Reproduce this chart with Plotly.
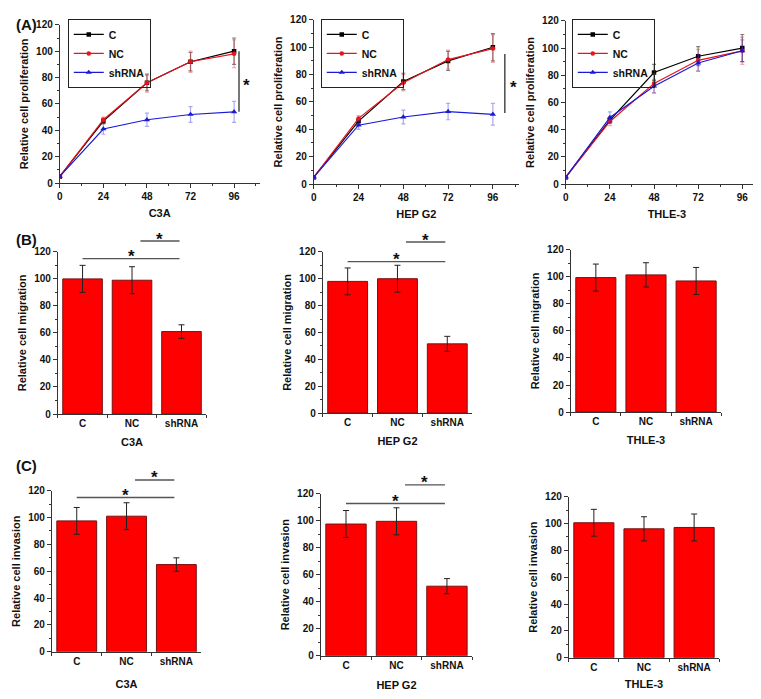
import plotly.graph_objects as go

W, H = 761, 699

# ---------------- data ----------------
hours = [0, 24, 48, 72, 96]
groups = ["C", "NC", "shRNA"]
cell_lines = ["C3A", "HEP G2", "THLE-3"]

# (A) proliferation, per cell line: C, NC, shRNA
prolif_C3A_C = [5, 47, 76, 92, 100]
prolif_C3A_C_err = [1, 2, 6, 7, 10]
prolif_C3A_NC = [5, 48, 76, 92, 98]
prolif_C3A_NC_err = [1, 2, 7, 8, 10.5]
prolif_C3A_sh = [5, 41, 48, 52, 54]
prolif_C3A_sh_err = [1, 4, 5, 6, 8]

prolif_HEP_C = [5, 46, 75, 90, 100]
prolif_HEP_C_err = [1, 2, 6, 7, 10]
prolif_HEP_NC = [5, 48, 74, 91, 99]
prolif_HEP_NC_err = [1, 2, 6, 7, 10]
prolif_HEP_sh = [5, 43, 49, 53, 51]
prolif_HEP_sh_err = [1, 3, 5, 6, 8]

prolif_THLE_C = [5, 47, 82, 94, 100]
prolif_THLE_C_err = [1, 2, 6, 7, 10]
prolif_THLE_NC = [5, 46, 74, 91, 98]
prolif_THLE_NC_err = [1, 3, 7, 8, 10]
prolif_THLE_sh = [5, 49, 72, 89, 98]
prolif_THLE_sh_err = [1, 4, 5, 6, 8]

# (B) migration
migr_C3A = [100, 99, 61]
migr_C3A_err = [10, 10, 5]
migr_HEP = [98, 100, 51.5]
migr_HEP_err = [10, 10, 5.6]
migr_THLE = [99.5, 101.5, 97]
migr_THLE_err = [10, 9, 10]

# (C) invasion
inv_C3A = [97.5, 101, 65]
inv_C3A_err = [10, 10, 5]
inv_HEP = [97.5, 99.5, 51.5]
inv_HEP_err = [10, 10, 5.6]
inv_THLE = [100.5, 96, 97]
inv_THLE_err = [10, 9, 10]

# ---------------- layout geometry (pixel boxes: left, right, top, bottom) ----------------
boxes = {
    1: (49, 249.5, 11, 172),
    2: (304, 510, 6, 173),
    3: (557, 760, 7, 173),
    4: (47, 196, 242, 407),
    5: (313, 463, 242, 406),
    6: (562, 713, 240, 405),
    7: (41, 191, 485, 649),
    8: (311, 463, 488, 653),
    9: (560, 711, 491, 655),
}
LINE_XR = [0, 110]
BAR_XR = [-0.5, 2.5]
YR = [0, 120]

FONT = "Liberation Sans, Arial, sans-serif"
AXC = "#333333"


def xdom(n):
    b = boxes[n]
    return [b[0] / W, b[1] / W]


def ydom(n):
    b = boxes[n]
    return [1 - b[3] / H, 1 - b[2] / H]


def to_paper(n, xv, yv, xr):
    b = boxes[n]
    fx = (xv - xr[0]) / (xr[1] - xr[0])
    fy = (yv - YR[0]) / (YR[1] - YR[0])
    px = b[0] + fx * (b[1] - b[0])
    py = b[3] - fy * (b[3] - b[2])
    return px / W, 1 - py / H


fig = go.Figure()

series_style = [
    ("C", "#000000", "square", 4.5, "rgba(0,0,0,0.5)"),
    ("NC", "#e8141c", "circle", 4.5, "rgba(220,40,40,0.4)"),
    ("shRNA", "#1a1ad6", "triangle-up", 5.5, "rgba(40,40,220,0.4)"),
]

line_data = [
    [(prolif_C3A_C, prolif_C3A_C_err), (prolif_C3A_NC, prolif_C3A_NC_err), (prolif_C3A_sh, prolif_C3A_sh_err)],
    [(prolif_HEP_C, prolif_HEP_C_err), (prolif_HEP_NC, prolif_HEP_NC_err), (prolif_HEP_sh, prolif_HEP_sh_err)],
    [(prolif_THLE_C, prolif_THLE_C_err), (prolif_THLE_NC, prolif_THLE_NC_err), (prolif_THLE_sh, prolif_THLE_sh_err)],
]
legend_ids = ["legend", "legend2", "legend3"]

for p, panel in enumerate(line_data):
    n = p + 1
    for (vals, errs), (name, col, sym, size, ecol) in zip(panel, series_style):
        fig.add_trace(go.Scatter(
            x=hours, y=vals, name=name, mode="lines+markers",
            line=dict(color=col, width=1.2),
            marker=dict(symbol=sym, size=size, color=col, line=dict(width=0)),
            error_y=dict(type="data", array=errs, color=ecol, thickness=1.2, width=2),
            xaxis="x%d" % n if n > 1 else "x", yaxis="y%d" % n if n > 1 else "y",
            legend=legend_ids[p], showlegend=True,
        ))

bar_data = [
    (migr_C3A, migr_C3A_err), (migr_HEP, migr_HEP_err), (migr_THLE, migr_THLE_err),
    (inv_C3A, inv_C3A_err), (inv_HEP, inv_HEP_err), (inv_THLE, inv_THLE_err),
]
for i, (vals, errs) in enumerate(bar_data):
    n = i + 4
    fig.add_trace(go.Bar(
        x=groups, y=vals, width=0.8,
        marker=dict(color="#ff0000", line=dict(color="#7a1010", width=1)),
        error_y=dict(type="data", array=errs, color="#222222", thickness=1, width=3),
        xaxis="x%d" % n, yaxis="y%d" % n, showlegend=False,
    ))

tickfont = dict(family=FONT, size=10, color="#111111", weight="bold")
titlefont = dict(family=FONT, size=11, color="#111111", weight="bold")

layout = dict(
    width=W, height=H, margin=dict(l=0, r=0, t=0, b=0),
    paper_bgcolor="white", plot_bgcolor="white",
    font=dict(family=FONT, color="#111111"),
    bargap=0.2,
)

ytitles = {1: "Relative cell proliferation", 2: "Relative cell proliferation", 3: "Relative cell proliferation",
           4: "Relative cell migration", 5: "Relative cell migration", 6: "Relative cell migration",
           7: "Relative cell invasion", 8: "Relative cell invasion", 9: "Relative cell invasion"}
xstandoff = {1: 8, 2: 8, 3: 8, 4: 10, 5: 10, 6: 10, 7: 14, 8: 11, 9: 8}

for n in range(1, 10):
    xa = "xaxis" if n == 1 else "xaxis%d" % n
    ya = "yaxis" if n == 1 else "yaxis%d" % n
    is_line = n <= 3
    common = dict(showline=True, linecolor=AXC, linewidth=1, ticks="outside", ticklen=4,
                  tickwidth=1, tickcolor=AXC, showgrid=False, zeroline=False, tickfont=tickfont)
    xd = dict(common, domain=xdom(n), anchor="y" if n == 1 else "y%d" % n,
              title=dict(text=cell_lines[(n - 1) % 3], font=titlefont, standoff=xstandoff[n]))
    if is_line:
        xd.update(range=LINE_XR, tickmode="array", tickvals=hours, ticktext=[str(h) for h in hours],
                  minor=dict(ticks="outside", ticklen=2, tickcolor=AXC, dtick=12, tick0=0))
    else:
        xd.update(range=BAR_XR, type="category", tickson="boundaries", ticklen=3)
    yd = dict(common, domain=ydom(n), anchor="x" if n == 1 else "x%d" % n, range=YR,
              dtick=20, tick0=0,
              minor=dict(ticks="outside", ticklen=2, tickcolor=AXC, dtick=10),
              title=dict(text=ytitles[n], font=titlefont, standoff=5))
    layout[xa] = xd
    layout[ya] = yd

# legends
leg_px = [57, 311, 563]
for lid, lx in zip(legend_ids, leg_px):
    layout[lid] = dict(x=lx / W, y=1 - 5 / H, xanchor="left", yanchor="top",
                       bordercolor="#222222", borderwidth=1, bgcolor="rgba(255,255,255,0)",
                       font=dict(family=FONT, size=10.5, color="#111111", weight="bold"),
                       itemwidth=30, tracegroupgap=0)

fig.update_layout(**layout)

shapes = []
annotations = []

# panel letters
for txt, (lx, ly) in zip(["(A)", "(B)", "(C)"], [(16, 11), (16, 229), (16, 459)]):
    annotations.append(dict(text=txt, x=lx / W, y=1 - ly / H, xref="paper", yref="paper",
                            showarrow=False, xanchor="center", yanchor="middle",
                            font=dict(family=FONT, size=15, color="#111111", weight="bold")))

# significance in proliferation panels (vertical bar + star), data coordinates
prolif_sig = [(1, 98.7, 54, 100, 103, 77), (2, 102.4, 52, 95, 107, 73.5)]
for n, xv, y0, y1, sx, sy in prolif_sig:
    xr = "x" if n == 1 else "x%d" % n
    yr = "y" if n == 1 else "y%d" % n
    shapes.append(dict(type="line", xref=xr, yref=yr, x0=xv, x1=xv, y0=y0, y1=y1,
                       line=dict(color="#555555", width=1.6)))
    annotations.append(dict(text="*", x=sx, y=sy, xref=xr, yref=yr, showarrow=False,
                            xanchor="center", yanchor="middle", yshift=-4,
                            font=dict(family=FONT, size=17, color="#111111", weight="bold")))

# significance brackets in bar panels: (panel, long_y, short_y)
bar_sig = [(4, 115, 128), (5, 112.7, 127.3), (7, 114.9, 128), (8, 112.7, 126.5)]
for n, ly, sy in bar_sig:
    for (xa0, xa1, yv) in [(0.0, 1.96, ly), (1.17, 1.96, sy)]:
        x0, yp = to_paper(n, xa0, yv, BAR_XR)
        x1, _ = to_paper(n, xa1, yv, BAR_XR)
        shapes.append(dict(type="line", xref="paper", yref="paper", x0=x0, x1=x1, y0=yp, y1=yp,
                           line=dict(color="#555555", width=1.4)))
        annotations.append(dict(text="*", x=(x0 + x1) / 2, y=yp, xref="paper", yref="paper",
                                showarrow=False, xanchor="center", yanchor="middle", yshift=2,
                                font=dict(family=FONT, size=17, color="#111111", weight="bold")))

fig.update_layout(shapes=shapes, annotations=annotations)

fig.write_html("out.html")
